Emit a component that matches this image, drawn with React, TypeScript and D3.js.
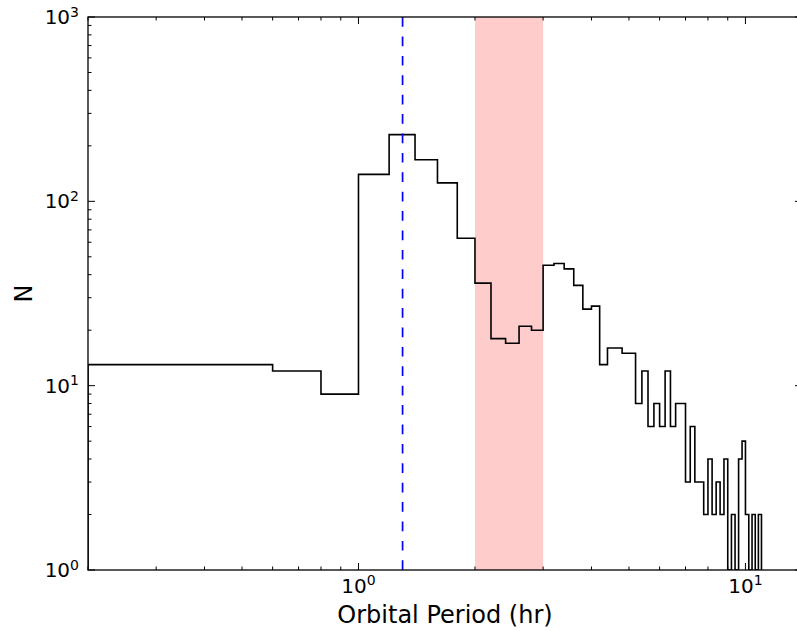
import React from "react";
import * as d3 from "d3";

// Histogram of orbital periods (hr), variable-width first bin then 0.2 hr bins
const binEdges = [
  0.2, 0.6, 0.8, 1.0, 1.2, 1.4, 1.6, 1.8, 2.0, 2.2, 2.4, 2.6, 2.8, 3.0, 3.2, 3.4,
  3.6, 3.8, 4.0, 4.2, 4.4, 4.6, 4.8, 5.0, 5.2, 5.4, 5.6, 5.8, 6.0, 6.2, 6.4, 6.6,
  6.8, 7.0, 7.2, 7.4, 7.6, 7.8, 8.0, 8.2, 8.4, 8.6, 8.8, 9.0, 9.2, 9.4, 9.6, 9.8,
  10.0, 10.2, 10.4, 10.6, 10.8, 11.0,
];
const counts = [
  13, 12, 9, 140, 230, 168, 126, 63, 36, 18, 17, 21, 20, 45, 46, 43, 35, 26, 27,
  13, 16, 16, 15, 15, 8, 12, 6, 8, 6, 12, 6, 8, 8, 3, 6, 3, 3, 2, 4, 2, 3, 2, 4,
  1, 2, 1, 4, 5, 2, 1, 2, 1, 2,
];

// Period gap band and reference period
const gapBand = [2.0, 3.0];
const markerPeriod = 1.3;

const xDomain = [0.2, 14];
const yDomain = [1, 1000];
const xMajor = [1, 10];
const xMinor = [0.2, 0.3, 0.4, 0.5, 0.6, 0.7, 0.8, 0.9, 2, 3, 4, 5, 6, 7, 8, 9];
const yMajor = [1, 10, 100, 1000];
const yMinor = [
  2, 3, 4, 5, 6, 7, 8, 9, 20, 30, 40, 50, 60, 70, 80, 90, 200, 300, 400, 500,
  600, 700, 800, 900,
];

const W = 797;
const H = 631;
const left = 88;
const right = 802;
const top = 17;
const bottom = 570;

const FONT = "'DejaVu Sans', sans-serif";

function Pow10({ exp, ...rest }: any) {
  return (
    <text {...rest}>
      <tspan>10</tspan>
      <tspan fontSize={14} dy={-7.5}>
        {exp}
      </tspan>
    </text>
  );
}

export default function App() {
  const x = d3.scaleLog().domain(xDomain).range([left, right]);
  const y = d3.scaleLog().domain(yDomain).range([bottom, top]);

  const yc = (v: number) => y(Math.max(v, yDomain[0]));

  const pts: [number, number][] = [];
  pts.push([x(binEdges[0]), bottom]);
  counts.forEach((c, i) => {
    pts.push([x(binEdges[i]), yc(c)]);
    pts.push([x(binEdges[i + 1]), yc(c)]);
  });
  pts.push([x(binEdges[binEdges.length - 1]), bottom]);
  const line = d3.line();
  const histPath = line(pts) || "";

  const majorLen = 7;
  const minorLen = 3.5;

  return (
    <svg
      width={W}
      height={H}
      style={{ position: "absolute", left: 0, top: 0, display: "block", background: "#fff" }}
      fontFamily={FONT}
    >
      <defs>
        <clipPath id="plotArea">
          <rect x={left} y={top} width={right - left} height={bottom - top} />
        </clipPath>
      </defs>
      <rect x={0} y={0} width={W} height={H} fill="#fff" />

      <g clipPath="url(#plotArea)">
        <rect
          x={x(gapBand[0])}
          y={top}
          width={x(gapBand[1]) - x(gapBand[0])}
          height={bottom - top}
          fill="#ffcccc"
        />
        <path d={histPath} fill="none" stroke="#000" strokeWidth={1.6} strokeLinejoin="miter" />
        <line
          x1={x(markerPeriod)}
          x2={x(markerPeriod)}
          y1={bottom}
          y2={top}
          stroke="#0000ff"
          strokeWidth={1.7}
          strokeDasharray="9.7 9.7"
        />
      </g>

      {/* ticks, inward on all four sides */}
      <g stroke="#000" strokeWidth={1}>
        {xMajor.map((v) => (
          <g key={"xM" + v}>
            <line x1={x(v)} x2={x(v)} y1={bottom} y2={bottom - majorLen} />
            <line x1={x(v)} x2={x(v)} y1={top} y2={top + majorLen} />
          </g>
        ))}
        {xMinor.map((v) => (
          <g key={"xm" + v}>
            <line x1={x(v)} x2={x(v)} y1={bottom} y2={bottom - minorLen} />
            <line x1={x(v)} x2={x(v)} y1={top} y2={top + minorLen} />
          </g>
        ))}
        {yMajor.map((v) => (
          <g key={"yM" + v}>
            <line x1={left} x2={left + majorLen} y1={y(v)} y2={y(v)} />
            <line x1={right} x2={right - majorLen} y1={y(v)} y2={y(v)} />
          </g>
        ))}
        {yMinor.map((v) => (
          <g key={"ym" + v}>
            <line x1={left} x2={left + minorLen} y1={y(v)} y2={y(v)} />
            <line x1={right} x2={right - minorLen} y1={y(v)} y2={y(v)} />
          </g>
        ))}
      </g>

      <rect
        x={left}
        y={top}
        width={right - left}
        height={bottom - top}
        fill="none"
        stroke="#000"
        strokeWidth={1.3}
      />

      {/* tick labels */}
      <g fontSize={20} fill="#000">
        {yMajor.map((v) => (
          <Pow10
            key={"yl" + v}
            exp={Math.round(Math.log10(v))}
            x={left - 9}
            y={y(v) + 7}
            textAnchor="end"
          />
        ))}
        {xMajor.map((v) => (
          <Pow10
            key={"xl" + v}
            exp={Math.round(Math.log10(v))}
            x={x(v)}
            y={bottom + 22.5}
            textAnchor="middle"
          />
        ))}
      </g>

      <text x={(left + right) / 2} y={622.5} textAnchor="middle" fontSize={24}>
        Orbital Period (hr)
      </text>
      <text
        transform={`translate(32,${(top + bottom) / 2}) rotate(-90)`}
        textAnchor="middle"
        fontSize={24}
      >
        N
      </text>
    </svg>
  );
}
